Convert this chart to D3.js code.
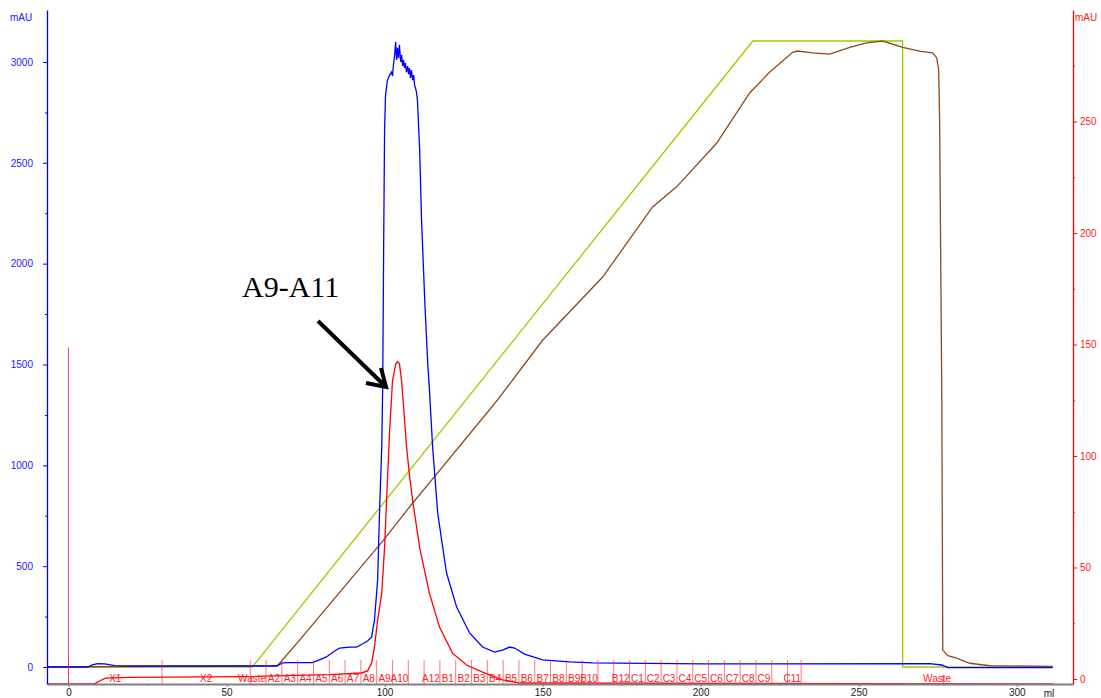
<!DOCTYPE html>
<html>
<head>
<meta charset="utf-8">
<script src="https://cdn.jsdelivr.net/npm/d3@7"></script>
<style>
  body { margin: 0; background: #fff; }
  svg { display: block; font-family: "Liberation Sans", Arial, sans-serif; }
</style>
</head>
<body>
<div id="container"></div>
<script>
// UV 280 nm trace, [ml, mAU]
var uvData = [
  [-7, 0], [6.0, 0], [7.6, 10], [9.2, 17], [11.4, 15], [14.6, 7], [19.3, 5], [65.8, 5],
  [67.7, 20], [69.9, 22], [77.2, 22], [79.4, 35], [81.6, 50], [84.2, 79], [85.8, 94],
  [88.9, 99], [91.1, 99], [93.0, 114], [94.6, 129], [95.9, 149], [96.8, 233], [97.8, 431],
  [98.4, 764], [99.1, 1091], [99.4, 1373], [99.7, 2067], [100.0, 2662], [100.3, 2836],
  [100.6, 2870], [100.9, 2910], [101.6, 2935], [102.2, 2950], [102.5, 2930], [102.8, 2985],
  [103.2, 3035], [103.5, 3100], [103.8, 3010], [104.1, 3070], [104.4, 3020], [104.7, 3085],
  [105.1, 3000], [105.4, 3035], [105.7, 2980], [106.0, 3010], [106.3, 2970], [106.6, 2995],
  [106.9, 2950], [107.3, 2980], [107.6, 2940], [107.9, 2970], [108.2, 2920], [108.5, 2960],
  [108.9, 2910], [109.2, 2935], [109.5, 2885], [109.8, 2870], [110.1, 2850], [110.4, 2810],
  [111.1, 2563], [111.7, 2216], [112.7, 1820], [113.6, 1522], [114.2, 1373], [115.2, 1091],
  [116.8, 764], [119.6, 466], [122.8, 297], [126.9, 169], [131.0, 99], [134.8, 74],
  [137.3, 84], [139.6, 99], [141.1, 94], [144.3, 64], [150.0, 35], [158.5, 25], [165.8, 20],
  [200.6, 15], [272.5, 17], [276.3, 10], [278.2, -3], [311.4, -3]
];

// second absorbance trace (right axis), [ml, mAU]
var redData = [
  [-7, -2.2], [8.2, -2.2], [9.8, -0.9], [11.7, 0.4], [19.3, 0.7], [57.3, 1.1], [82.6, 2.0],
  [92.7, 2.7], [94.6, 3.6], [95.9, 7.1], [96.8, 14.3], [97.8, 26.3], [99.1, 38.4],
  [100.0, 58.9], [100.9, 88.8], [101.6, 111.2], [102.5, 133.5], [103.5, 141.1],
  [104.1, 142.4], [104.7, 141.5], [105.4, 133.5], [107.0, 103.6], [107.9, 91], [108.9, 79.9],
  [111.1, 58.9], [114.2, 38.4], [117.4, 23.2], [121.5, 11.6], [125.9, 6.25], [131.0, 3.1],
  [137.3, -0.4], [142.7, -1.8], [311.4, -2.2]
];

// conductivity, % of full scale
var condData = [
  [-7, 0], [66.1, 0.2], [73.1, 4.3], [99.4, 20.1], [108.9, 26.2], [115.8, 30.4],
  [133.2, 41.1], [135.8, 42.7], [150.0, 52.2], [169.0, 62.3], [184.8, 73.5], [192.4, 76.7],
  [205.1, 83.7], [215.5, 91.7], [221.8, 95.0], [229.1, 98.2], [230.7, 98.4], [235.4, 98.1],
  [240.8, 97.9], [247.2, 99.0], [252.5, 99.7], [257.6, 100], [263.9, 99.0], [269.3, 98.4],
  [273.4, 98.1], [274.7, 97.3], [275.3, 95.4], [275.6, 87.4], [276.3, 42.7], [276.6, 2.7],
  [278.2, 1.8], [281.0, 1.4], [285.1, 0.6], [291.5, 0.2], [311.4, 0.1]
];

// gradient %B
var gradData = [
  [-7, 0], [58.2, 0], [216.5, 100], [263.9, 100], [263.9, 0], [311.4, 0]
];

// fractions
var fracStarts = [0, 29.6, 57.5, 62.5, 67.5, 72.5, 77.5, 82.5, 87.5, 92.5, 97.5, 102.5,
  107.5, 112.5, 117.5, 122.5, 127.5, 132.5, 137.5, 142.5, 147.5, 152.5, 157.5, 162.5,
  167.5, 172.5, 177.5, 182.5, 187.5, 192.5, 197.5, 202.5, 207.5, 212.5, 217.5, 222.5, 227.5];
var fracEnd = 231.8;
var fracNames = ["X1", "X2", "Waste", "A2", "A3", "A4", "A5", "A6", "A7", "A8", "A9", "A10",
  "", "A12", "B1", "B2", "B3", "B4", "B5", "B6", "B7", "B8", "B9", "B10",
  "", "B12", "C1", "C2", "C3", "C4", "C5", "C6", "C7", "C8", "C9", "", "C11"];
var wasteMark = 276.7;
var injectMl = 0;

var xTicks = [0, 50, 100, 150, 200, 250, 300];
var xMinor = [25, 75, 125, 175, 225, 275];
var yLTicks = [0, 500, 1000, 1500, 2000, 2500, 3000];
var yLMinor = [250, 750, 1250, 1750, 2250, 2750];
var yRTicks = [0, 50, 100, 150, 200, 250];
var yRMinor = [25, 75, 125, 175, 225, 275];

var width = 1101, height = 698;
var svg = d3.select("div#container").append("svg").attr("width", width).attr("height", height);

var x = d3.scaleLinear().domain([-6.8, 317.8]).range([47, 1073]);
var yL = d3.scaleLinear().domain([-84.3, 3257.8]).range([684, 10]);
var yR = d3.scaleLinear().domain([-2.24, 300]).range([684, 10]);
var yP = d3.scaleLinear().domain([0, 100]).range([yL(0), yL(3104)]);

svg.append("clipPath").attr("id", "plot")
   .append("rect").attr("x", 47).attr("y", 10).attr("width", 1026).attr("height", 674);

// injection mark
svg.append("line")
   .attr("x1", x(injectMl)).attr("x2", x(injectMl))
   .attr("y1", yR(148.7)).attr("y2", yR(-2.24))
   .attr("stroke", "#e8447c").attr("stroke-width", 1);

var g = svg.append("g").attr("clip-path", "url(#plot)");

function lineOf(ys) {
  return d3.line().x(function(d) { return x(d[0]); }).y(function(d) { return ys(d[1]); });
}

g.append("path").datum(gradData).attr("d", lineOf(yP))
 .attr("fill", "none").attr("stroke", "#9acd00").attr("stroke-width", 1.3);
g.append("path").datum(condData).attr("d", lineOf(yP))
 .attr("fill", "none").attr("stroke", "#8b4a1c").attr("stroke-width", 1.3);
g.append("path").datum(uvData).attr("d", lineOf(yL))
 .attr("fill", "none").attr("stroke", "#0000ff").attr("stroke-width", 1.3);
g.append("path").datum(redData).attr("d", lineOf(yR))
 .attr("fill", "none").attr("stroke", "#ff0000").attr("stroke-width", 1.3);

// fraction marks and labels
var fr = svg.append("g");
fracStarts.concat([fracEnd]).forEach(function(m) {
  fr.append("line").attr("x1", x(m)).attr("x2", x(m)).attr("y1", 660).attr("y2", 684)
    .attr("stroke", "#ff3030").attr("stroke-opacity", 0.65).attr("stroke-width", 1);
});
fracNames.forEach(function(name, i) {
  if (!name) return;
  var a = x(fracStarts[i]);
  var b = x(i + 1 < fracStarts.length ? fracStarts[i + 1] : fracEnd);
  var t = fr.append("text").text(name).attr("y", 681.5)
    .attr("fill", "#ff2020").style("font-size", "10px");
  var w = t.node().getComputedTextLength();
  if (w > b - a) {
    t.attr("x", b).attr("text-anchor", "end");
  } else {
    t.attr("x", (a + b) / 2).attr("text-anchor", "middle");
  }
});
fr.append("line").attr("x1", x(wasteMark)).attr("x2", x(wasteMark)).attr("y1", 675).attr("y2", 684)
  .attr("stroke", "#ff3030").attr("stroke-width", 1);
fr.append("text").text("Waste").attr("x", x(wasteMark) - 6).attr("y", 681.5)
  .attr("text-anchor", "middle").attr("fill", "#ff2020").style("font-size", "10px");

// axes
var gx = svg.append("g").attr("transform", "translate(0,684)")
  .call(d3.axisBottom(x).tickValues(xTicks).tickSize(3).tickSizeOuter(0).tickPadding(2));
svg.append("g").attr("transform", "translate(0,684)")
  .call(d3.axisBottom(x).tickValues(xMinor).tickSize(2).tickSizeOuter(0).tickFormat(""))
  .select(".domain").remove();
gx.select(".domain").attr("stroke", "#808080").attr("stroke-width", 2);
gx.selectAll("text").attr("fill", "#222").style("font-size", "10px").style("font-family", "Liberation Sans, Arial, sans-serif");
svg.selectAll("g.tick line").attr("stroke", "#808080");
svg.append("text").text("ml").attr("x", 1049).attr("y", 697).attr("text-anchor", "middle")
  .attr("fill", "#222").style("font-size", "10px");

var gl = svg.append("g").attr("transform", "translate(47,0)")
  .call(d3.axisLeft(yL).tickValues(yLTicks).tickSize(4).tickSizeOuter(0).tickPadding(10).tickFormat(d3.format("d")));
var glm = svg.append("g").attr("transform", "translate(47,0)")
  .call(d3.axisLeft(yL).tickValues(yLMinor).tickSize(2).tickSizeOuter(0).tickFormat(""));
glm.select(".domain").remove();
gl.select(".domain").attr("stroke", "#0000ff").attr("stroke-width", 1.3);
gl.selectAll(".tick line").attr("stroke", "#0000ff");
glm.selectAll(".tick line").attr("stroke", "#0000ff");
gl.selectAll("text").attr("fill", "#2020ff").style("font-size", "10px").style("font-family", "Liberation Sans, Arial, sans-serif");
svg.append("text").text("mAU").attr("x", 10).attr("y", 21).attr("fill", "#2020ff").style("font-size", "10px");

var gr = svg.append("g").attr("transform", "translate(1073,0)")
  .call(d3.axisRight(yR).tickValues(yRTicks).tickSize(4).tickSizeOuter(0).tickPadding(3).tickFormat(d3.format("d")));
var grm = svg.append("g").attr("transform", "translate(1073,0)")
  .call(d3.axisRight(yR).tickValues(yRMinor).tickSize(2).tickSizeOuter(0).tickFormat(""));
grm.select(".domain").remove();
gr.select(".domain").attr("stroke", "#ff0000").attr("stroke-width", 1.3);
gr.selectAll(".tick line").attr("stroke", "#ff0000");
grm.selectAll(".tick line").attr("stroke", "#ff0000");
gr.selectAll("text").attr("fill", "#ff2020").style("font-size", "10px").style("font-family", "Liberation Sans, Arial, sans-serif");
svg.append("text").text("mAU").attr("x", 1075).attr("y", 21).attr("fill", "#ff2020").style("font-size", "10px");

// annotation
svg.append("text").text("A9-A11").attr("x", 242).attr("y", 297)
  .style("font-family", "Liberation Serif, DejaVu Serif, serif").style("font-size", "30px").attr("fill", "#000");
var ann = svg.append("g").attr("stroke", "#000").attr("stroke-width", 4).attr("stroke-linecap", "butt").attr("fill", "none");
ann.append("line").attr("x1", 318).attr("y1", 321).attr("x2", 385).attr("y2", 386);
ann.append("polyline").attr("points", "366,383 386,387 381,368");
</script>
</body>
</html>
